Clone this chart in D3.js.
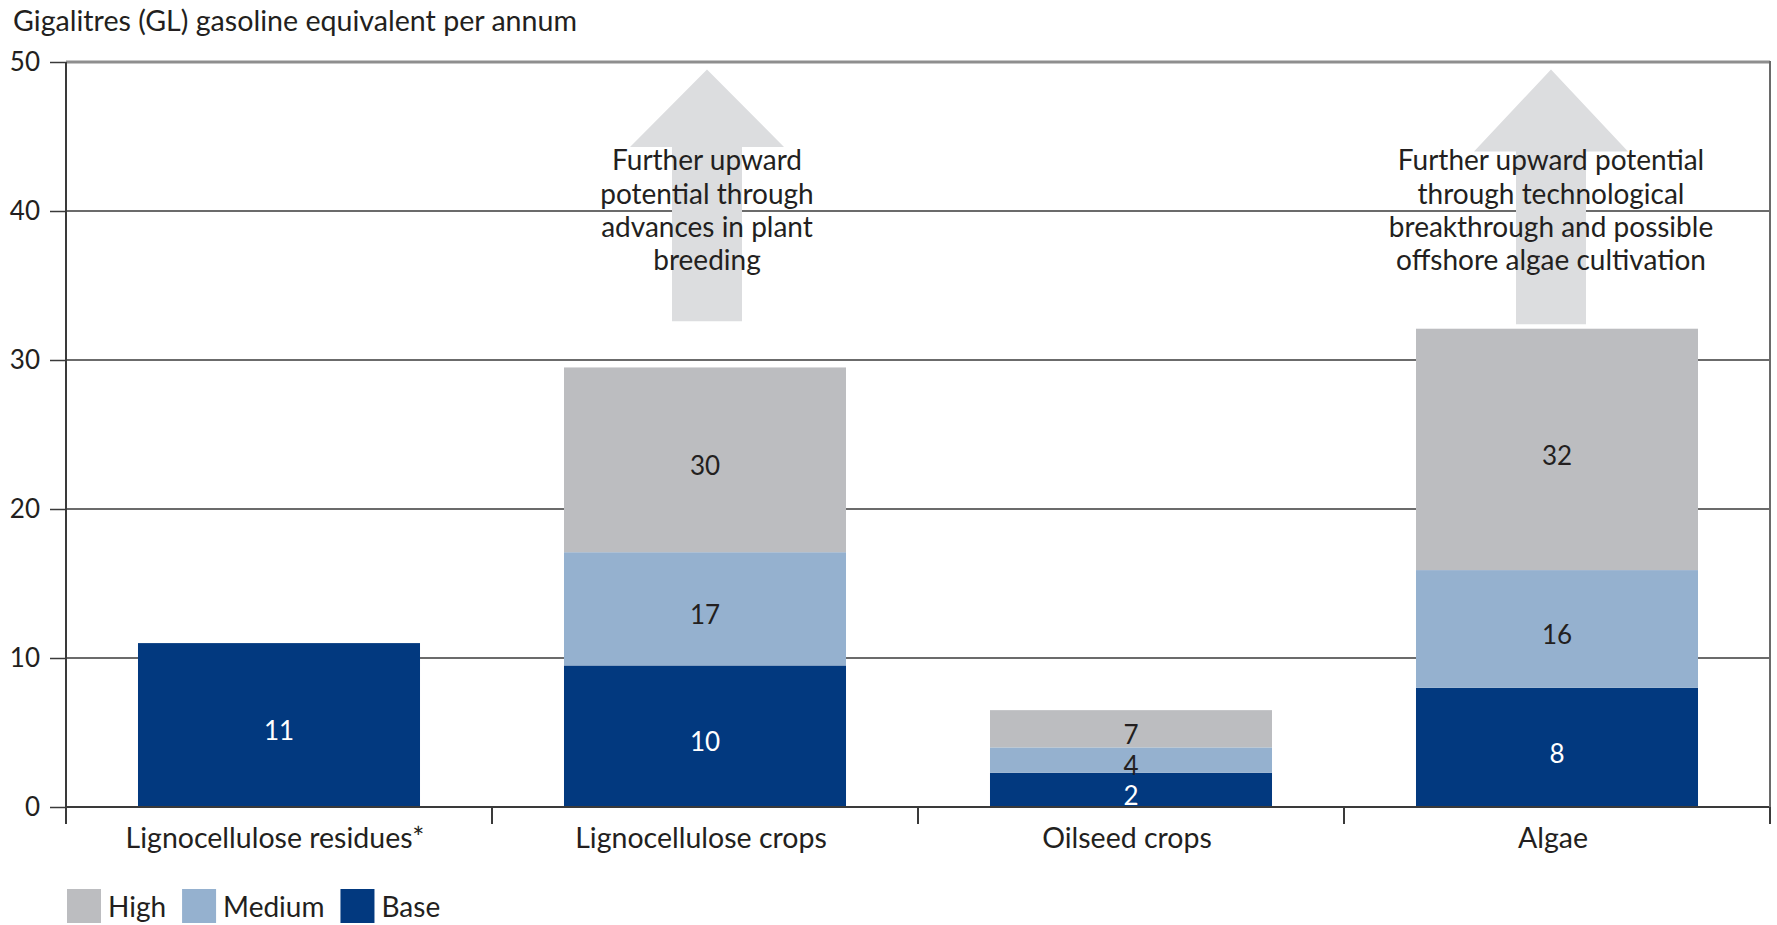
<!DOCTYPE html>
<html>
<head>
<meta charset="utf-8">
<script src="https://cdn.jsdelivr.net/npm/d3@7"></script>
<style>
  body { margin: 0; background: #fff; }
  svg text { font-family: Lato, "Open Sans", sans-serif; fill: #231f20; }
</style>
</head>
<body>
<svg width="1777" height="925"></svg>
<script>
// data (scenario totals, GL gasoline equivalent)
const categories = ["Lignocellulose residues*", "Lignocellulose crops", "Oilseed crops", "Algae"]
const baseValues = [11, 9.5, 2.3, 8]
const mediumValues = [null, 17.1, 4, 15.9]
const highValues = [null, 29.5, 6.5, 32.1]
const yTicks = [0, 10, 20, 30, 40, 50]

const arrowCats = ["Lignocellulose crops", "Algae"]
const arrowFrom = [32.6, 32.4]
const arrowHead = [44.3, 44]
const arrowTip = [49.5, 49.5]
const arrowText = [
  ["Further upward", "potential through", "advances in plant", "breeding"],
  ["Further upward potential", "through technological", "breakthrough and possible", "offshore algae cultivation"]
]

const series = [
  {key: "High", color: "#bcbdc0", text: "#231f20"},
  {key: "Medium", color: "#95b1cf", text: "#231f20"},
  {key: "Base", color: "#02397f", text: "#ffffff"}
]

let svg = d3.select("svg")
let margin = {top: 62, right: 7, bottom: 118, left: 66}
let width = svg.attr("width") - margin.left - margin.right
let height = svg.attr("height") - margin.top - margin.bottom

let x = d3.scaleBand().domain(categories).range([0, width])
let xBar = d3.scaleBand().domain(categories).range([0, width]).paddingInner(0.338).paddingOuter(0.169)
let y = d3.scaleLinear().domain([0, 50]).range([height, 0])

let g = svg.append("g")
    .attr("transform", "translate(" + margin.left + "," + margin.top + ")")

// title
svg.append("text")
  .attr("x", 13)
  .attr("y", 31)
  .attr("font-size", 28.6)
  .text("Gigalitres (GL) gasoline equivalent per annum")

// gridlines
g.selectAll(".grid")
  .data(yTicks.filter(d => d > 0 && d < 50))
  .enter().append("line")
  .attr("x1", 0).attr("x2", width)
  .attr("y1", d => y(d)).attr("y2", d => y(d))
  .attr("stroke", "#3a3a3a").attr("stroke-width", 1.5)

g.append("line")
  .attr("x1", 0).attr("x2", width)
  .attr("y1", y(50)).attr("y2", y(50))
  .attr("stroke", "#8e8e8e").attr("stroke-width", 3)

// arrows (nudged slightly as in the original layout)
const arrowShift = [2, -6]
arrowCats.forEach((c, i) => {
  let cx = x(c) + x.bandwidth() / 2 + arrowShift[i]
  let sw = 35, hw = 77
  let pts = [
    [cx - sw, y(arrowFrom[i])], [cx - sw, y(arrowHead[i])], [cx - hw, y(arrowHead[i])],
    [cx, y(arrowTip[i])],
    [cx + hw, y(arrowHead[i])], [cx + sw, y(arrowHead[i])], [cx + sw, y(arrowFrom[i])]
  ]
  g.append("path")
    .attr("d", d3.line()(pts) + "Z")
    .attr("fill", "#dcdddf")
})

// stacked bars (segments between scenario totals)
let segs = []
categories.forEach((c, i) => {
  let levels = [0, baseValues[i], mediumValues[i], highValues[i]]
  ;["Base", "Medium", "High"].forEach((k, j) => {
    if (levels[j + 1] == null) return
    segs.push({cat: c, key: k, y0: levels[j], y1: levels[j + 1]})
  })
})

g.selectAll(".bar")
  .data(segs)
  .enter().append("rect")
  .attr("x", d => xBar(d.cat))
  .attr("width", xBar.bandwidth())
  .attr("y", d => y(d.y1))
  .attr("height", d => y(d.y0) - y(d.y1))
  .attr("fill", d => series.find(s => s.key == d.key).color)

g.selectAll(".val")
  .data(segs)
  .enter().append("text")
  .attr("x", d => xBar(d.cat) + xBar.bandwidth() / 2)
  .attr("y", d => (y(d.y0) + y(d.y1)) / 2 + 6)
  .attr("dy", "0.35em")
  .attr("text-anchor", "middle")
  .attr("font-size", 26)
  .style("fill", d => series.find(s => s.key == d.key).text)
  .text(d => Math.round(d.y1))

// arrow captions
arrowCats.forEach((c, i) => {
  let cx = x(c) + x.bandwidth() / 2 + arrowShift[i]
  g.append("text")
    .attr("text-anchor", "middle")
    .attr("font-size", 28)
    .selectAll("tspan")
    .data(arrowText[i])
    .enter().append("tspan")
    .attr("x", cx)
    .attr("y", (d, j) => y(44) + 19 + j * 33.3)
    .text(d => d)
})

// axes
g.append("line")
  .attr("x1", 0).attr("x2", width)
  .attr("y1", y(0)).attr("y2", y(0))
  .attr("stroke", "#3a3a3a").attr("stroke-width", 2)

g.append("line")
  .attr("x1", 0).attr("x2", 0)
  .attr("y1", y(50)).attr("y2", height + 17)
  .attr("stroke", "#3a3a3a").attr("stroke-width", 2)

g.append("line")
  .attr("x1", width).attr("x2", width)
  .attr("y1", y(50) - 1).attr("y2", height + 17)
  .attr("stroke", "#6a6a6a").attr("stroke-width", 2)

let bounds = categories.map(c => x(c)).concat([width])
g.selectAll(".xtick")
  .data(bounds)
  .enter().append("line")
  .attr("x1", d => d).attr("x2", d => d)
  .attr("y1", height).attr("y2", height + 17)
  .attr("stroke", "#3a3a3a").attr("stroke-width", 2)

g.selectAll(".xlab")
  .data(categories)
  .enter().append("text")
  .attr("x", d => x(d) + x.bandwidth() / 2 - 4)
  .attr("y", height + 41)
  .attr("text-anchor", "middle")
  .attr("font-size", 28.5)
  .text(d => d)

let yAxis = g.append("g")
  .call(d3.axisLeft(y).tickValues(yTicks).tickSize(16).tickPadding(10))
yAxis.select(".domain").remove()
yAxis.selectAll("line").attr("stroke", "#3a3a3a").attr("stroke-width", 1.5)
yAxis.selectAll("text")
  .attr("font-size", 26)
  .attr("font-family", "Lato, sans-serif")
  .style("fill", "#231f20")

// legend
let lx = 67
series.forEach(s => {
  svg.append("rect")
    .attr("x", lx).attr("y", 889)
    .attr("width", 34).attr("height", 34)
    .attr("fill", s.color)
  let t = svg.append("text")
    .attr("x", lx + 41).attr("y", 917)
    .attr("font-size", 28)
    .text(s.key)
  lx += 41 + t.node().getComputedTextLength() + 16
})
</script>
</body>
</html>
